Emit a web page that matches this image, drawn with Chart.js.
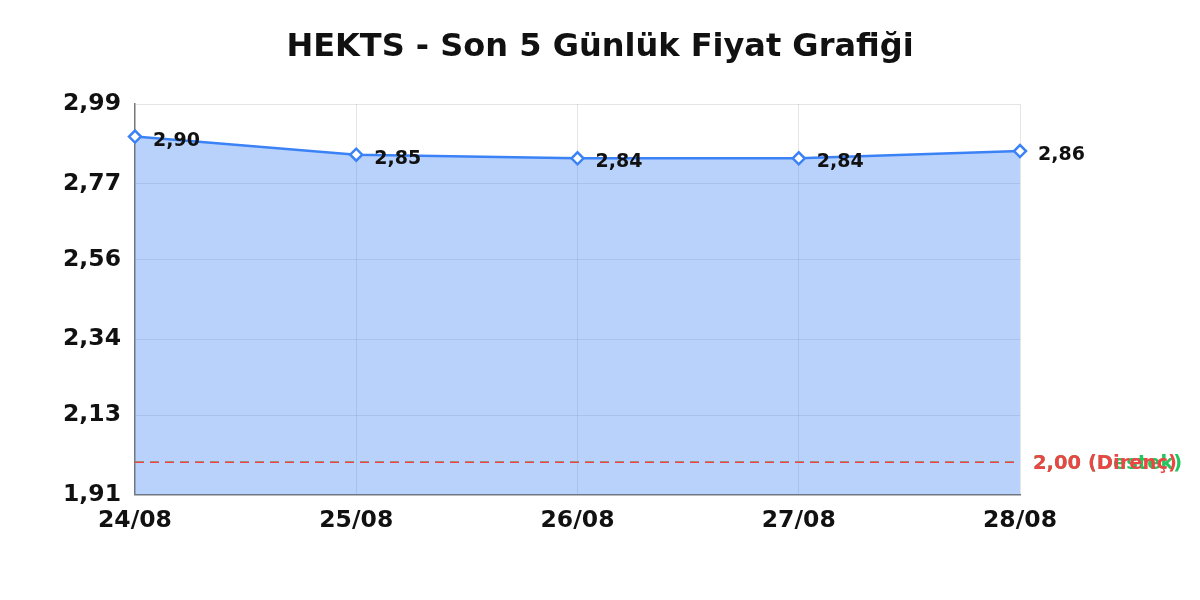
<!DOCTYPE html>
<html>
<head>
<meta charset="utf-8">
<script src="https://cdn.jsdelivr.net/npm/chart.js@4/dist/chart.umd.min.js"></script>
<style>
  html, body { margin: 0; padding: 0; background: #fff; }
  #wrap { width: 1200px; height: 600px; }
</style>
</head>
<body>
<div id="wrap"><canvas id="priceChart"></canvas></div>
<script>
const chartTitle = 'HEKTS - Son 5 Günlük Fiyat Grafiği';
const days = ["24/08", "25/08", "26/08", "27/08", "28/08"];
const prices = [2.90, 2.85, 2.84, 2.84, 2.86];
const yTicks = [1.91, 2.13, 2.34, 2.56, 2.77, 2.99];
const supportLevel = 2.00;
const resistanceLevel = 2.00;

const fmt = (v) => v.toFixed(2).replace('.', ',');
const FONT = "'DejaVu Sans', sans-serif";

// title centred on the whole canvas, not on the plot
const pageTitle = {
  id: 'pageTitle',
  afterDraw(chart) {
    const { ctx, width } = chart;
    ctx.save();
    ctx.font = "bold 32px " + FONT;
    ctx.fillStyle = '#111';
    ctx.textAlign = 'center';
    ctx.textBaseline = 'middle';
    ctx.fillText(chartTitle, width / 2, 48);
    ctx.restore();
  }
};

// dashed level lines + their labels on the right side
const levelLines = {
  id: 'levelLines',
  afterDatasetsDraw(chart) {
    const { ctx, chartArea, scales } = chart;
    const levels = [
      { v: supportLevel, color: '#22c55e', text: fmt(supportLevel) + ' (Destek)' },
      { v: resistanceLevel, color: '#ef4444', text: fmt(resistanceLevel) + ' (Direnç)' },
    ];
    ctx.save();
    levels.forEach((l) => {
      const y = scales.y.getPixelForValue(l.v);
      ctx.beginPath();
      ctx.setLineDash([9, 6]);
      ctx.lineWidth = 1.5;
      ctx.strokeStyle = l.color;
      ctx.moveTo(chartArea.left, y);
      ctx.lineTo(chartArea.right, y);
      ctx.stroke();
      ctx.setLineDash([]);
      ctx.fillStyle = l.color;
      ctx.font = "bold 19.5px " + FONT;
      ctx.textBaseline = 'middle';
      ctx.textAlign = 'left';
      ctx.fillText(l.text, chartArea.right + 13, y + 2);
    });
    ctx.restore();
  }
};

// value labels next to every point
const pointLabels = {
  id: 'pointLabels',
  afterDatasetsDraw(chart) {
    const { ctx } = chart;
    const meta = chart.getDatasetMeta(0);
    ctx.save();
    ctx.font = "bold 19px " + FONT;
    ctx.fillStyle = '#111';
    ctx.textBaseline = 'middle';
    ctx.textAlign = 'left';
    meta.data.forEach((pt, i) => {
      ctx.fillText(fmt(prices[i]), pt.x + 18, pt.y + 4);
    });
    ctx.restore();
  }
};

const ctx = document.getElementById('priceChart').getContext('2d');

let priceChart = new Chart(ctx, {
  type: 'line',
  data: {
    labels: days,
    datasets: [
      {
        data: prices,
        borderColor: '#3b82f6',
        backgroundColor: 'rgba(59,130,246,0.36)',
        borderWidth: 2.5,
        fill: 'start',
        tension: 0,
        pointStyle: 'rectRot',
        pointRadius: 6,
        pointBorderWidth: 2.5,
        pointBackgroundColor: '#fff',
        pointBorderColor: '#3b82f6',
      },
    ],
  },
  options: {
    responsive: true,
    maintainAspectRatio: false,
    animation: false,
    layout: { padding: { left: 49, right: 180, top: 104, bottom: 53 } },
    plugins: {
      legend: { display: false },
      tooltip: { enabled: false },
      title: { display: false },
    },
    scales: {
      x: {
        offset: false,
        grid: { color: 'rgba(0,0,0,0.1)', drawTicks: false },
        border: { color: '#777', width: 1.5 },
        ticks: {
          color: '#111',
          padding: 12,
          maxRotation: 0,
          font: { family: FONT, size: 23.5, weight: 'bold' },
        },
      },
      y: {
        min: yTicks[0],
        max: yTicks[yTicks.length - 1],
        afterBuildTicks: (axis) => {
          axis.ticks = yTicks.map((v) => ({ value: v }));
        },
        grid: { color: 'rgba(0,0,0,0.1)', drawTicks: false },
        border: { color: '#777', width: 1.5 },
        ticks: {
          color: '#111',
          padding: 14,
          font: { family: FONT, size: 23.5, weight: 'bold' },
          callback: (v) => fmt(v),
        },
      },
    },
  },
  plugins: [levelLines, pointLabels, pageTitle],
});
</script>
</body>
</html>
